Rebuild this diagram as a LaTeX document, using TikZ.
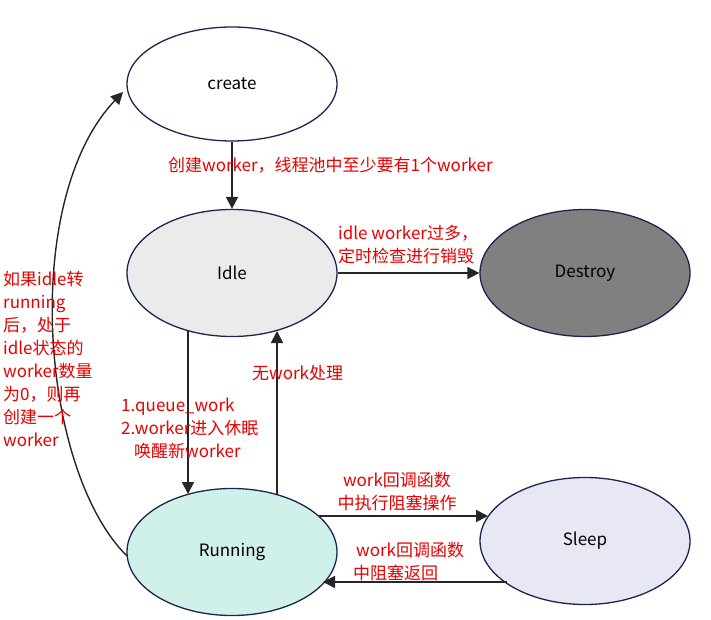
\documentclass[tikz,border=0pt]{standalone}
\usepackage{fontspec}
\setmainfont{Noto Sans CJK SC}
\usetikzlibrary{arrows.meta,shapes.geometric}
\definecolor{lblred}{HTML}{E60000}
\definecolor{edgenavy}{HTML}{1C2550}
\definecolor{idlefill}{HTML}{EBEBEB}
\definecolor{destroyfill}{HTML}{808080}
\definecolor{runfill}{HTML}{D0F0EA}
\definecolor{sleepfill}{HTML}{E8E8F5}
\begin{document}
\begin{tikzpicture}[x=1pt,y=-1pt,
  state/.style={ellipse,draw=edgenavy,line width=1.3pt,minimum width=210pt,minimum height=127pt,inner sep=0pt,font=\fontsize{17}{20}\selectfont,text=black},
  conn/.style={draw=black!85,line width=1.8pt,-{Triangle[length=12pt,width=12pt]}},
  lbl/.style={text=lblred,font=\fontsize{17}{23}\selectfont,inner sep=0pt}]
\useasboundingbox (0,0) rectangle (711,620);
\node[state,fill=white,minimum height=114pt] (create) at (232,84) {create};
\node[state,fill=idlefill] (idle) at (232,273) {Idle};
\node[state,fill=destroyfill] (destroy) at (585,273) {Destroy};
\node[state,fill=runfill] (running) at (232,552) {Running};
\node[state,fill=sleepfill] (sleep) at (585,541) {Sleep};
% boundary points
\coordinate (idleA) at (188,331);
\coordinate (runA) at (188,494);
\coordinate (idleB) at (277,331);
\coordinate (runB) at (277,494);
\coordinate (runC) at (319,516);
\coordinate (sleepC) at (488,516);
\coordinate (sleepD) at (507,582);
\coordinate (runD) at (323,582);
\coordinate (runE) at (127,556);
\coordinate (createE) at (123,92);
% connectors
\draw[conn] (create.south) -- (idle.north);
\draw[conn] (idle.east) -- (destroy.west);
\draw[conn] (idleA) -- (runA);
\draw[conn] (runB) -- (idleB);
\draw[conn] (runC) -- (sleepC);
\draw[conn] (sleepD) -- (runD);
\draw[draw=black!85,line width=1.4pt,-{Triangle[length=12pt,width=12pt]}] (runE) .. controls (40,470) and (20,200) .. (createE);
% labels
\node[lbl,anchor=west] (l1) at (168,165) {创建worker，线程池中至少要有1个worker};
\node[lbl,anchor=west,align=left] (l2) at (338,245) {idle worker过多，\\定时检查进行销毁};
\node[lbl,anchor=west] (l3) at (252,373) {无work处理};
\node[lbl,anchor=west,align=left] (l4) at (121,428) {1.queue\_work\\2.worker进入休眠\\\hspace*{13pt}唤醒新worker};
\node[lbl,anchor=west,align=left] (l5) at (3,358.5) {如果idle转\\running\\后，处于\\idle状态的\\worker数量\\为0，则再\\创建一个\\worker};
\node[lbl,align=center] (l6) at (397,492) {work回调函数\\中执行阻塞操作};
\node[lbl,anchor=west,align=left] (l7) at (353,561.5) {\hspace*{3pt}work回调函数\\中阻塞返回};
\end{tikzpicture}
\end{document}
